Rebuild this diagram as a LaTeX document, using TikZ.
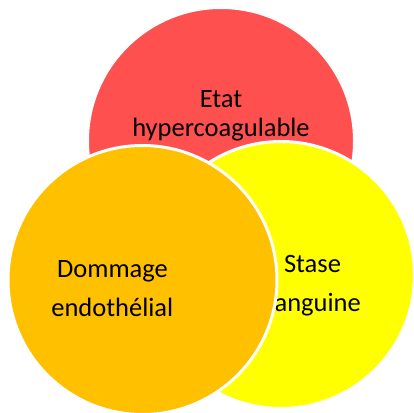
\documentclass[tikz,border=0pt]{standalone}
\usepackage{fontspec}
\setmainfont{Carlito}
\definecolor{vred}{HTML}{FF5050}
\definecolor{vorange}{HTML}{FFC000}
\definecolor{vyellow}{HTML}{FFFF00}
\tikzset{
  venn/.style={circle, minimum size=267pt, inner sep=0pt, draw=white, line width=3pt},
  lbl/.style={anchor=base, inner sep=0pt, font=\fontsize{26.5}{30}\selectfont, text=black}
}
\begin{document}
\begin{tikzpicture}[x=1pt, y=-1pt]
\useasboundingbox (0,0) rectangle (414,412);
\node[venn, fill=vred] (red) at (221,141) {};
\node[lbl] (t1) at (221,107.3) {Etat};
\node[lbl] (t2) at (221,136) {hypercoagulable};
\node[venn, fill=vyellow] (yel) at (281,275) {};
\node[lbl] (t3) at (312.5,272.3) {Stase};
\node[lbl] (t4) at (312.5,311.7) {sanguine};
\node[venn, fill=vorange, minimum size=269pt] (ora) at (142.5,280) {};
\node[lbl] (t5) at (112.5,277.3) {Dommage};
\node[lbl] (t6) at (112.3,316) {endothélial};
\end{tikzpicture}
\end{document}
